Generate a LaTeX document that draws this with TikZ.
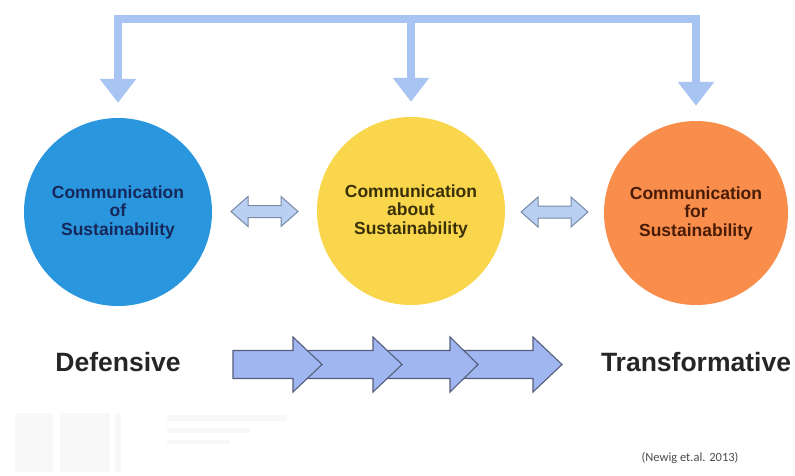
\documentclass[tikz,border=0pt]{standalone}
\usepackage{fontspec}
\setmainfont{Liberation Sans}
\newfontfamily\notefont{Carlito}
\usetikzlibrary{arrows.meta,calc}

\definecolor{circblue}{RGB}{42,150,222}
\definecolor{circyellow}{RGB}{250,214,76}
\definecolor{circorange}{RGB}{249,141,76}
\definecolor{txtblue}{RGB}{22,40,90}
\definecolor{txtyellow}{RGB}{58,48,8}
\definecolor{txtorange}{RGB}{72,28,6}
\definecolor{feedblue}{RGB}{168,196,242}
\definecolor{dblfill}{RGB}{186,208,242}
\definecolor{dblline}{RGB}{120,138,166}
\definecolor{chevfill}{RGB}{160,182,240}
\definecolor{chevline}{RGB}{84,94,124}
\definecolor{ghost}{RGB}{248,248,248}

\tikzset{
  stage/.style={circle, minimum size=188pt, inner sep=0pt, align=center,
    font=\fontsize{17.5}{18.5}\selectfont\bfseries},
  feedback/.style={draw=feedblue, line width=8pt, line join=miter},
  feedtip/.style={-{Triangle[width=35pt,length=24pt]}},
  pole/.style={font=\fontsize{26.5}{30}\selectfont\bfseries, text=black!85, anchor=base},
  dblarrow/.style={draw=dblline, fill=dblfill, line width=1pt, line join=miter},
  chevron/.style={draw=chevline, fill=chevfill, line width=1.1pt, line join=miter},
  ghostbox/.style={fill=ghost, draw=none},
  cite/.style={font=\notefont\fontsize{12.5}{14}\selectfont, text=black!70}
}

% horizontal double-headed arrow centred on a point
\newcommand\twowayarrow[1]{%
  \draw[dblarrow] ($(#1)+(-33.5,0)$) -- ++(17,-15) -- ++(0,9) -- ++(33,0)
    -- ++(0,-9) -- ++(17,15) -- ++(-17,15) -- ++(0,-9) -- ++(-33,0)
    -- ++(0,9) -- cycle;}

% one block arrow of the progression: start x, head base x, tip x
\newcommand\stagearrow[3]{%
  \draw[chevron] (#1,350.5) -- (#2,350.5) -- (#2,337) -- (#3,364.5)
    -- (#2,392) -- (#2,378.5) -- (#1,378.5) -- cycle;}

\begin{document}
\begin{tikzpicture}[x=1pt, y=-1pt]
  \useasboundingbox (0,0) rectangle (795,475);
  \fill[white] (0,0) rectangle (795,475);

  % faint screen remnants in the lower left corner
  \fill[ghostbox] (15,413) rectangle (53,472);
  \fill[ghostbox] (60,413) rectangle (110,472);
  \fill[ghostbox] (115,413) rectangle (121,472);
  \fill[ghostbox] (167,415) rectangle (287,421);
  \fill[ghostbox] (167,428) rectangle (250,433);
  \fill[ghostbox] (167,440) rectangle (230,444);

  % the three kinds of communication
  \node[stage, fill=circblue, text=txtblue] (blue) at (118,212)
    {Communication\\of\\Sustainability};
  \node[stage, fill=circyellow, text=txtyellow] (yellow) at (411,211)
    {Communication\\about\\Sustainability};
  \node[stage, fill=circorange, text=txtorange, minimum size=184pt] (orange) at (696,213)
    {Communication\\for\\Sustainability};

  % feedback frame above the circles
  \coordinate (tipL) at ([yshift=15pt]blue.north);
  \coordinate (tipM) at ([yshift=15pt]yellow.north);
  \coordinate (tipR) at ([yshift=15pt]orange.north);
  \coordinate (barM) at (tipM |- 0,19);
  \draw[feedback, {Triangle[width=35pt,length=24pt]}-{Triangle[width=35pt,length=24pt]}]
    (tipL) |- (barM) -| (tipR);
  \draw[feedback, feedtip] (barM) -- (tipM);

  % two-way links between neighbouring circles
  \coordinate (linkA) at ($(blue.east)!0.5!(yellow.west)$);
  \coordinate (linkB) at ($(yellow.east)!0.5!(orange.west)$);
  \twowayarrow{linkA}
  \twowayarrow{linkB}

  % progression from defensive to transformative
  \stagearrow{455}{533}{562}
  \stagearrow{380}{450}{478}
  \stagearrow{300}{373}{402}
  \stagearrow{233}{293}{322}

  \node[pole] (defensive) at (blue.center |- 0,371) {Defensive};
  \node[pole] (transform) at (orange.center |- 0,371) {Transformative};

  \node[cite] (source) at (690,458) {(Newig et.al. 2013)};
\end{tikzpicture}
\end{document}
